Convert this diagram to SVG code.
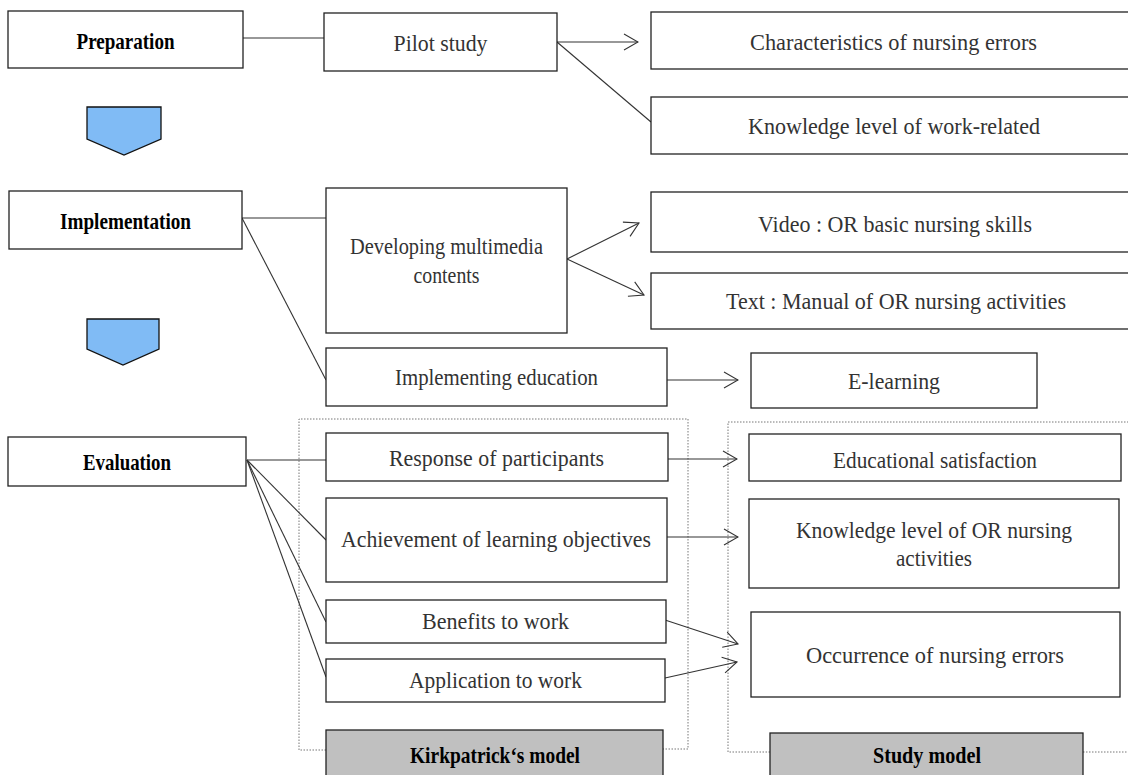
<svg xmlns="http://www.w3.org/2000/svg" width="1128" height="775" viewBox="0 0 1128 775">
<defs>
<style>
.box{fill:#fff;stroke:#222;stroke-width:1.3}
.lbl{fill:#c0c0c0;stroke:#222;stroke-width:1.3}
.t{font-family:"Liberation Serif","DejaVu Serif",serif;font-size:23.5px;fill:#333;text-anchor:middle}
.b{font-family:"Liberation Serif","DejaVu Serif",serif;font-size:23.5px;font-weight:bold;fill:#000;text-anchor:middle}
.c{stroke:#333;stroke-width:1.1;fill:none}
.dot{stroke:#777;stroke-width:1;fill:none;stroke-dasharray:1.5 1.5}
.chev{fill:#80bbf5;stroke:#111;stroke-width:1.3}
</style>
<marker id="arr" viewBox="0 0 16 18" refX="15" refY="9" markerWidth="16" markerHeight="18" markerUnits="userSpaceOnUse" orient="auto">
<path d="M1,1 L15,9 L1,17" fill="none" stroke="#333" stroke-width="1.1"/>
</marker>
</defs>
<rect width="1128" height="775" fill="#fff"/>

<g id="containers">
<path class="dot" d="M326,750 L299,750 L299,419 L688,419 L688,749 L663,749"/>
<path class="dot" d="M770,752 L728,752 L728,422 L1128,422"/>
<path class="dot" d="M1083,752 L1128,752"/>
</g>

<g id="stage-arrows">
<polygon class="chev" points="87,107 161,107 161,139 124,155 87,139"/>
<polygon class="chev" points="87,319 159,319 159,349 123,365 87,349"/>
</g>

<g id="connectors">
<line class="c" x1="243" y1="38" x2="324" y2="38"/>
<line class="c" x1="557" y1="42" x2="638" y2="42" marker-end="url(#arr)"/>
<line class="c" x1="557" y1="42" x2="651" y2="122"/>
<line class="c" x1="242" y1="218" x2="326" y2="218"/>
<line class="c" x1="242" y1="218" x2="326" y2="380"/>
<line class="c" x1="567" y1="259" x2="639" y2="223" marker-end="url(#arr)"/>
<line class="c" x1="567" y1="259" x2="644" y2="295" marker-end="url(#arr)"/>
<line class="c" x1="667" y1="380" x2="738" y2="380" marker-end="url(#arr)"/>
<line class="c" x1="247" y1="460" x2="326" y2="460"/>
<line class="c" x1="247" y1="460" x2="326" y2="540"/>
<line class="c" x1="247" y1="460" x2="326" y2="622"/>
<line class="c" x1="247" y1="460" x2="326" y2="677"/>
<line class="c" x1="668" y1="459" x2="737" y2="459" marker-end="url(#arr)"/>
<line class="c" x1="667" y1="537" x2="738" y2="537" marker-end="url(#arr)"/>
<line class="c" x1="665" y1="620" x2="738" y2="644" marker-end="url(#arr)"/>
<line class="c" x1="665" y1="678" x2="737" y2="662" marker-end="url(#arr)"/>
</g>

<g id="preparation"><rect class="box" x="8" y="11" width="235" height="57"/><text class="b" x="125.5" y="49" textLength="98" lengthAdjust="spacingAndGlyphs">Preparation</text></g>
<g id="pilot"><rect class="box" x="324" y="13" width="233" height="58"/><text class="t" x="440.5" y="51" textLength="94" lengthAdjust="spacingAndGlyphs">Pilot study</text></g>
<g id="characteristics"><rect class="box" x="651" y="12" width="485" height="57"/><text class="t" x="893.5" y="50" textLength="287" lengthAdjust="spacingAndGlyphs">Characteristics of nursing errors</text></g>
<g id="knowledge-work"><rect class="box" x="651" y="97" width="485" height="57"/><text class="t" x="894" y="134" textLength="292" lengthAdjust="spacingAndGlyphs">Knowledge level of work-related</text></g>

<g id="implementation"><rect class="box" x="9" y="191" width="233" height="58"/><text class="b" x="125.5" y="229" textLength="131" lengthAdjust="spacingAndGlyphs">Implementation</text></g>
<g id="developing"><rect class="box" x="326" y="188" width="241" height="145"/><text class="t" x="446.5" y="254" textLength="193" lengthAdjust="spacingAndGlyphs">Developing multimedia</text><text class="t" x="446.5" y="283" textLength="66" lengthAdjust="spacingAndGlyphs">contents</text></g>
<g id="video"><rect class="box" x="651" y="192" width="485" height="60"/><text class="t" x="895" y="232" textLength="274" lengthAdjust="spacingAndGlyphs">Video : OR basic nursing skills</text></g>
<g id="text-manual"><rect class="box" x="651" y="273" width="485" height="56"/><text class="t" x="896" y="309" textLength="340" lengthAdjust="spacingAndGlyphs">Text : Manual of OR nursing activities</text></g>
<g id="implementing"><rect class="box" x="326" y="348" width="341" height="58"/><text class="t" x="496.5" y="385" textLength="203" lengthAdjust="spacingAndGlyphs">Implementing education</text></g>
<g id="elearning"><rect class="box" x="751" y="353" width="286" height="55"/><text class="t" x="894" y="389" textLength="92" lengthAdjust="spacingAndGlyphs">E-learning</text></g>

<g id="evaluation"><rect class="box" x="8" y="437" width="238" height="49"/><text class="b" x="127" y="470" textLength="88" lengthAdjust="spacingAndGlyphs">Evaluation</text></g>
<g id="response"><rect class="box" x="326" y="433" width="342" height="48"/><text class="t" x="496.5" y="466" textLength="215" lengthAdjust="spacingAndGlyphs">Response of participants</text></g>
<g id="achievement"><rect class="box" x="326" y="498" width="341" height="84"/><text class="t" x="496" y="547" textLength="310" lengthAdjust="spacingAndGlyphs">Achievement of learning objectives</text></g>
<g id="benefits"><rect class="box" x="326" y="600" width="340" height="43"/><text class="t" x="495.5" y="629" textLength="147" lengthAdjust="spacingAndGlyphs">Benefits to work</text></g>
<g id="application"><rect class="box" x="326" y="659" width="339" height="43"/><text class="t" x="495.5" y="688" textLength="173" lengthAdjust="spacingAndGlyphs">Application to work</text></g>
<g id="kirkpatrick"><rect class="lbl" x="326" y="730" width="337" height="55"/><text class="b" x="495" y="763" textLength="170" lengthAdjust="spacingAndGlyphs">Kirkpatrick‘s model</text></g>

<g id="satisfaction"><rect class="box" x="749" y="434" width="372" height="47"/><text class="t" x="935" y="468" textLength="204" lengthAdjust="spacingAndGlyphs">Educational satisfaction</text></g>
<g id="knowledge-or"><rect class="box" x="749" y="499" width="370" height="89"/><text class="t" x="934" y="538" textLength="276" lengthAdjust="spacingAndGlyphs">Knowledge level of OR nursing</text><text class="t" x="934" y="566" textLength="76" lengthAdjust="spacingAndGlyphs">activities</text></g>
<g id="occurrence"><rect class="box" x="751" y="612" width="369" height="85"/><text class="t" x="935" y="663" textLength="258" lengthAdjust="spacingAndGlyphs">Occurrence of nursing errors</text></g>
<g id="study-model"><rect class="lbl" x="770" y="733" width="313" height="52"/><text class="b" x="927" y="763" textLength="108" lengthAdjust="spacingAndGlyphs">Study model</text></g>
</svg>
